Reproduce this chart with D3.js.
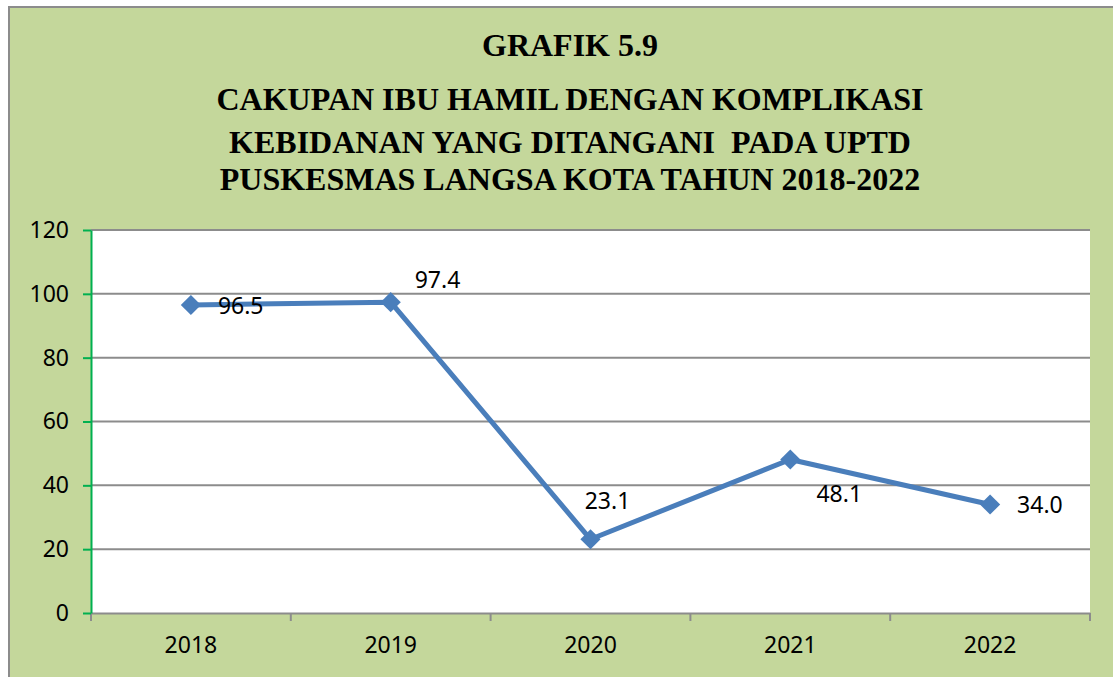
<html>
<head>
<script src="https://d3js.org/d3.v7.min.js"></script>
<style>
  body { margin: 0; background: white; }
  svg { display: block; }
</style>
</head>
<body>
<svg id="chart" width="1113" height="677"></svg>
<script>
// data
var years = ["2018", "2019", "2020", "2021", "2022"]
var cakupan = [96.5, 97.4, 23.1, 48.1, 34.0]
var yTicks = [0, 20, 40, 60, 80, 100, 120]
var titleLines = ["GRAFIK 5.9",
  "CAKUPAN IBU HAMIL DENGAN KOMPLIKASI",
  "KEBIDANAN YANG DITANGANI  PADA UPTD",
  "PUSKESMAS LANGSA KOTA TAHUN 2018-2022"]
// label placement per point (excel kept them where they were dragged)
var labelPos = ["right", "above-right", "above", "below", "right"]

const pLeft = 91, pRight = 1090, pTop = 230, pBottom = 613
const svg = d3.select("#chart")

// green chart area
svg.append("rect")
  .attr("x", 9).attr("y", 7)
  .attr("width", 1120).attr("height", 690)
  .style("fill", "#c4d79b")
  .style("stroke", "#8c8c8c")
  .style("stroke-width", 2)

// title
var titleY = [56, 110, 153, 190]
svg.append("g").selectAll("text").data(titleLines).enter().append("text")
  .attr("x", 570)
  .attr("y", function(d, i){ return titleY[i] })
  .attr("text-anchor", "middle")
  .style("font-family", "'Liberation Serif', 'Times New Roman', serif")
  .style("font-weight", "bold")
  .style("font-size", "32px")
  .style("white-space", "pre")
  .text(function(d){ return d })

var x = d3.scaleBand().domain(years).range([pLeft, pRight])
var y = d3.scaleLinear().domain([0, 120]).range([pBottom, pTop])

// plot area
svg.append("rect")
  .attr("x", pLeft).attr("y", pTop)
  .attr("width", pRight - pLeft).attr("height", pBottom - pTop)
  .style("fill", "white")

// gridlines
svg.append("g").selectAll("line").data(yTicks.filter(function(d){ return d > 0 })).enter().append("line")
  .attr("x1", pLeft).attr("x2", pRight)
  .attr("y1", function(d){ return y(d) }).attr("y2", function(d){ return y(d) })
  .style("stroke", "#8c8c8c")
  .style("stroke-width", 2)

// x axis
var xAxis = svg.append("g")
  .attr("transform", "translate(0," + pBottom + ")")
  .call(d3.axisBottom(x).tickSize(0).tickPadding(24))
xAxis.select(".domain").style("stroke", "#8c8c8c").style("stroke-width", 2)
xAxis.selectAll("text")
  .style("font-family", "'Noto Sans', 'Open Sans', sans-serif")
  .style("font-size", "23px")
  .style("fill", "black")
// boundary ticks
var bounds = years.map(function(d){ return x(d) }).concat([pRight])
xAxis.append("g").selectAll("line").data(bounds).enter().append("line")
  .attr("x1", function(d){ return d }).attr("x2", function(d){ return d })
  .attr("y1", 0).attr("y2", 8)
  .style("stroke", "#8c8c8c")
  .style("stroke-width", 2)

// y axis
var yAxis = svg.append("g")
  .attr("transform", "translate(" + pLeft + ",0)")
  .call(d3.axisLeft(y).tickValues(yTicks).tickSize(8).tickSizeOuter(0).tickPadding(14))
yAxis.select(".domain").style("stroke", "#00b050").style("stroke-width", 2)
yAxis.selectAll(".tick line").style("stroke", "#00b050").style("stroke-width", 2)
yAxis.selectAll("text")
  .style("font-family", "'Noto Sans', 'Open Sans', sans-serif")
  .style("font-size", "23px")
  .style("fill", "black")

// the line
var cx = function(d, i){ return x(years[i]) + x.bandwidth() / 2 }
var line = d3.line().x(cx).y(function(d){ return y(d) })
svg.append("path")
  .datum(cakupan)
  .attr("d", line)
  .style("fill", "none")
  .style("stroke", "#4a7ebb")
  .style("stroke-width", 5)
  .style("stroke-linejoin", "round")

svg.append("g").selectAll("path").data(cakupan).enter().append("path")
  .attr("d", d3.symbol().type(d3.symbolDiamond2).size(260))
  .attr("transform", function(d, i){ return "translate(" + cx(d, i) + "," + y(d) + ")" })
  .style("fill", "#4a7ebb")

// data labels
var offs = { "right": [27, 9, "start"], "above-right": [24, -14, "start"],
  "above": [17, -30, "middle"], "below": [49, 43, "middle"] }
svg.append("g").selectAll("text").data(cakupan).enter().append("text")
  .attr("x", function(d, i){ return cx(d, i) + offs[labelPos[i]][0] })
  .attr("y", function(d, i){ return y(d) + offs[labelPos[i]][1] })
  .attr("text-anchor", function(d, i){ return offs[labelPos[i]][2] })
  .style("font-family", "'Noto Sans', 'Open Sans', sans-serif")
  .style("font-size", "23px")
  .text(function(d){ return d.toFixed(1) })
</script>
</body>
</html>
